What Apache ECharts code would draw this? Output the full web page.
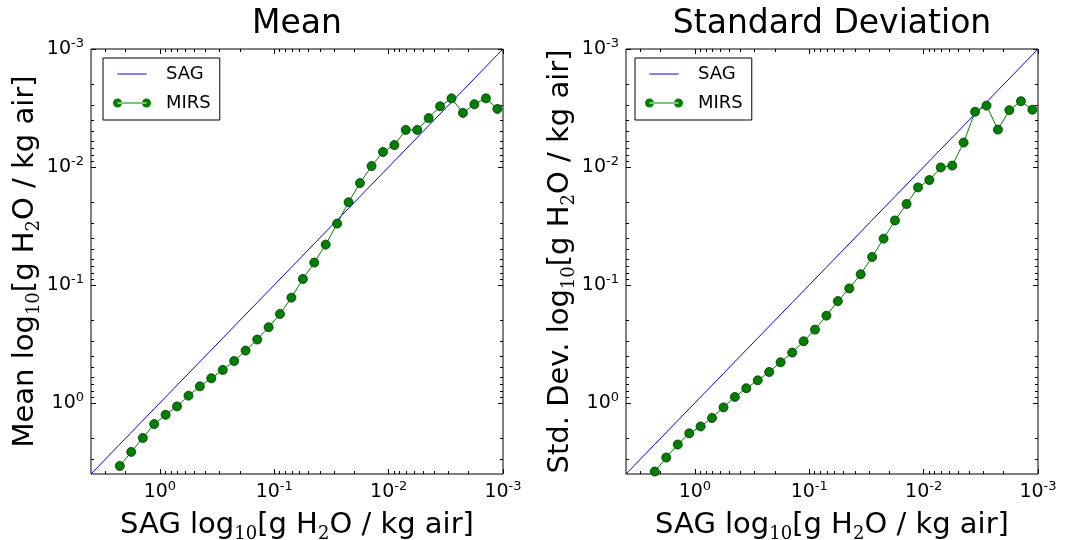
<!DOCTYPE html>
<html>
<head>
<meta charset="utf-8">
<script src="https://cdn.jsdelivr.net/npm/echarts@6/dist/echarts.min.js"></script>
<style>
  html, body { margin: 0; padding: 0; background: #fff; }
  #chart { width: 1077px; height: 540px; }
</style>
</head>
<body>
<div id="chart"></div>
<script>
// SAG values (x axis, g H2O / kg air), shared by both panels
var sagX = [2.24, 1.78, 1.41, 1.12, 0.891, 0.708, 0.562, 0.447, 0.355, 0.282,
  0.224, 0.178, 0.141, 0.112, 0.0891, 0.0708, 0.0562, 0.0447, 0.0355, 0.0282,
  0.0224, 0.0178, 0.0141, 0.0112, 0.00891, 0.00708, 0.00562, 0.00447, 0.00355, 0.00282,
  0.00224, 0.00178, 0.00141, 0.00112];
// 1:1 reference line runs corner to corner
var sagLine = [4, 2.24, 1.12, 0.562, 0.282, 0.141, 0.0708, 0.0355, 0.0178, 0.00891,
  0.00447, 0.00224, 0.00112, 0.001];
// MIRS mean
var mirsMean = [3.42, 2.60, 1.98, 1.51, 1.26, 1.07, 0.867, 0.723, 0.618, 0.525,
  0.441, 0.360, 0.290, 0.228, 0.176, 0.128, 0.0889, 0.0646, 0.0455, 0.0302,
  0.0199, 0.0137, 0.00982, 0.00746, 0.00652, 0.00485, 0.00485, 0.00385, 0.00306, 0.00262,
  0.00348, 0.00294, 0.00262, 0.00322];
// MIRS standard deviation
var mirsStd = [3.81, 2.90, 2.25, 1.81, 1.58, 1.34, 1.09, 0.889, 0.750, 0.643,
  0.546, 0.452, 0.374, 0.300, 0.239, 0.182, 0.137, 0.107, 0.0811, 0.0579,
  0.0405, 0.0284, 0.0206, 0.0149, 0.0129, 0.0101, 0.00973, 0.00621, 0.00340, 0.00302,
  0.00482, 0.00330, 0.00277, 0.00327];

var majorTicks = [0.001, 0.01, 0.1, 1];
var axMin = 0.001, axMax = 4;

// tick-only axes work in log10 units so the ticks line up with the log axes
var majorExp = majorTicks.map(function (v) { return Math.log10(v); });
var minorExp = [];
majorTicks.forEach(function (d) {
  for (var k = 2; k <= 9; k++) {
    if (k * d < axMax) minorExp.push(Math.log10(k * d));
  }
});

var FONT = 'DejaVu Sans';
var nameRich = {
  sub: { fontSize: 18, fontFamily: 'DejaVu Serif', verticalAlign: 'bottom', lineHeight: 18 }
};
var labelRich = {
  sup: { fontSize: 13, fontFamily: FONT, verticalAlign: 'top', lineHeight: 13, color: '#000' }
};

function tickLabel(v) {
  var e = Math.round(Math.log10(v));
  return '10{sup|' + e + '}';
}

function tickAxis(dir, grid, pos, len, values, name, nameSize) {
  return {
    type: 'value', min: Math.log10(axMin), max: Math.log10(axMax), inverse: true,
    gridIndex: grid, position: pos,
    axisLine: { show: false, onZero: false }, splitLine: { show: false },
    axisLabel: { show: false },
    axisTick: { show: true, inside: true, length: len, customValues: values, lineStyle: { color: '#000', width: 1 } },
    name: name || '', nameLocation: 'middle', nameGap: 8,
    nameTextStyle: { fontFamily: FONT, fontSize: nameSize || 12, color: '#000' }
  };
}

// one labelled log axis plus four tick-only axes, for one direction of one grid
function makeAxes(dir, grid, name, sideName) {
  var pos = dir === 'x' ? ['bottom', 'top'] : ['left', 'right'];
  var axes = [];
  axes.push({
    type: 'log', logBase: 10, min: axMin, max: axMax, inverse: true,
    gridIndex: grid, position: pos[0],
    axisLine: { show: false, onZero: false }, splitLine: { show: false }, axisTick: { show: false },
    name: name, nameLocation: 'middle', nameGap: dir === 'x' ? 31 : 48,
    nameTextStyle: { fontFamily: FONT, fontSize: 29, color: '#000', lineHeight: 34, rich: nameRich },
    axisLabel: {
      show: true, customValues: majorTicks, formatter: tickLabel, margin: dir === 'x' ? 6 : 7,
      fontFamily: FONT, fontSize: 19, lineHeight: 24, color: '#000', rich: labelRich,
      showMinLabel: true, showMaxLabel: true
    }
  });
  axes.push(tickAxis(dir, grid, pos[0], 5, majorExp));
  axes.push(tickAxis(dir, grid, pos[0], 3, minorExp));
  axes.push(tickAxis(dir, grid, pos[1], 5, majorExp, sideName, 33));
  axes.push(tickAxis(dir, grid, pos[1], 3, minorExp));
  return axes;
}

var xName = 'SAG log{sub|10}[g H{sub|2}O / kg air]';
var xAxes = makeAxes('x', 0, xName, 'Mean').concat(makeAxes('x', 1, xName, 'Standard Deviation'));
var yAxes = makeAxes('y', 0, 'Mean log{sub|10}[g H{sub|2}O / kg air]')
  .concat(makeAxes('y', 1, 'Std. Dev. log{sub|10}[g H{sub|2}O / kg air]'));

var mirsIcon = 'path://M0,4.5a4.5,4.5 0 1,0 9,0a4.5,4.5 0 1,0 -9,0Z' +
  'M4.5,4H33.5V5H4.5Z' +
  'M29,4.5a4.5,4.5 0 1,0 9,0a4.5,4.5 0 1,0 -9,0Z';
var sagIcon = 'path://M0,0L0.01,0M38,9L38.01,9M4.5,4H33.5V5H4.5Z';

function makeLegend(left) {
  return {
    left: left, top: 58, orient: 'vertical',
    backgroundColor: '#fff', borderColor: '#000', borderWidth: 1,
    padding: [6, 9, 7, 10], itemWidth: 38, itemHeight: 9, itemGap: 9,
    textStyle: { fontFamily: FONT, fontSize: 18, color: '#000', lineHeight: 20, padding: [0, 0, 0, 10] },
    data: [
      { name: 'SAG', icon: sagIcon, itemStyle: { borderWidth: 0 } },
      { name: 'MIRS', icon: mirsIcon, itemStyle: { borderWidth: 0 } }
    ]
  };
}

function pairs(xs, ys) {
  return xs.map(function (x, i) { return [x, ys[i]]; });
}

function panelSeries(p, ys) {
  return [{
    name: 'SAG', type: 'line', xAxisIndex: p * 5, yAxisIndex: p * 5,
    data: sagLine.map(function (v) { return [v, v]; }),
    showSymbol: false, symbol: 'none', silent: true, z: 3,
    color: '#0000ff', lineStyle: { width: 1, color: '#0000ff' }
  }, {
    name: 'MIRS', type: 'line', xAxisIndex: p * 5, yAxisIndex: p * 5,
    data: pairs(sagX, ys), z: 4,
    symbol: 'circle', symbolSize: 9, color: '#008000',
    lineStyle: { width: 1, color: '#008000' },
    itemStyle: { color: '#008000', borderColor: '#003300', borderWidth: 0.8 }
  }];
}

var chart = echarts.init(document.getElementById('chart'), null, { renderer: 'canvas' });
chart.setOption({
  animation: false,
  backgroundColor: '#fff',
  grid: [
    { left: 91, top: 49, width: 412, height: 425, show: true, borderColor: '#000', borderWidth: 1, outerBoundsMode: 'none' },
    { left: 626, top: 49, width: 412, height: 425, show: true, borderColor: '#000', borderWidth: 1, outerBoundsMode: 'none' }
  ],
  legend: [makeLegend(103), makeLegend(635)],
  xAxis: xAxes,
  yAxis: yAxes,
  series: panelSeries(0, mirsMean).concat(panelSeries(1, mirsStd))
});
</script>
</body>
</html>
